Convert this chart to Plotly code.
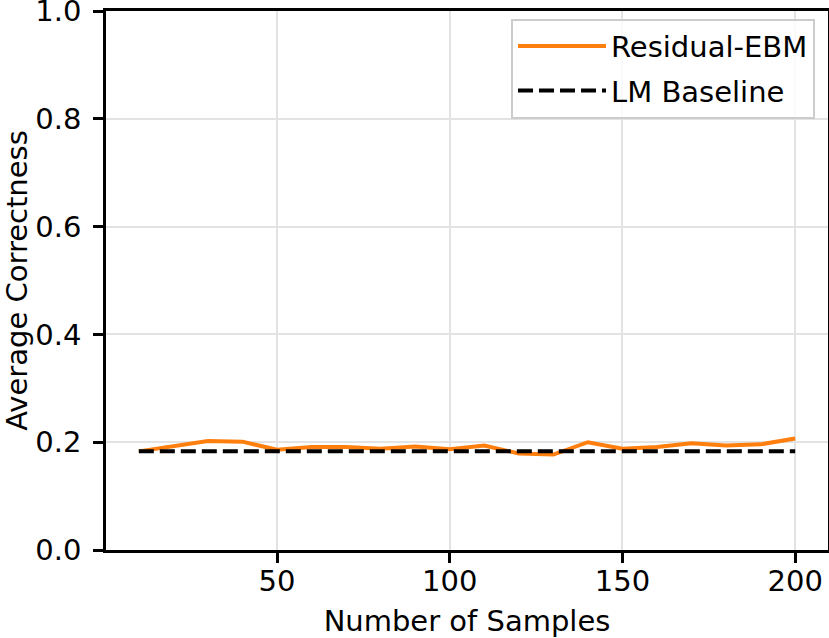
import plotly.graph_objects as go

samples = [10, 20, 30, 40, 50, 60, 70, 80, 90, 100,
           110, 120, 130, 140, 150, 160, 170, 180, 190, 200]
residual_ebm = [0.183, 0.192, 0.202, 0.201, 0.186, 0.191, 0.191, 0.188, 0.192, 0.187,
                0.194, 0.179, 0.177, 0.200, 0.188, 0.191, 0.198, 0.194, 0.196, 0.207]
lm_baseline = [0.183] * len(samples)

FONT = "DejaVu Sans"
FS = 29

fig = go.Figure()
fig.add_trace(go.Scatter(x=samples, y=residual_ebm, mode="lines", name="Residual-EBM",
                         legendgroup="a",
                         line=dict(color="#ff7f0e", width=4)))
fig.add_trace(go.Scatter(x=samples, y=lm_baseline, mode="lines", name="LM Baseline",
                         legendgroup="b",
                         line=dict(color="black", width=4, dash="15px,6px")))

axis_common = dict(showline=True, linecolor="black", linewidth=2.7, mirror=True,
                   ticks="outside", ticklen=10, tickwidth=2.7, tickcolor="black",
                   showgrid=True, gridcolor="#e3e3e3", gridwidth=2, zeroline=False,
                   ticklabeloverflow="allow", automargin=False,
                   tickfont=dict(family=FONT, size=FS, color="black"))

fig.update_layout(
    width=829, height=638,
    margin=dict(l=106, r=1, t=11, b=88, autoexpand=False),
    paper_bgcolor="white", plot_bgcolor="white",
    font=dict(family=FONT, size=FS, color="black"),
    showlegend=True,
    legend=dict(x=0.982, y=0.986, xanchor="right", yanchor="top",
                bgcolor="rgba(255,255,255,0.8)", bordercolor="#cccccc", borderwidth=2,
                font=dict(family=FONT, size=FS, color="black"),
                tracegroupgap=4, itemwidth=88),
)
fig.update_xaxes(range=[0.5, 209.5], tickvals=[50, 100, 150, 200],
                 title=dict(text="Number of Samples", font=dict(family=FONT, size=FS), standoff=21),
                 ticklabelstandoff=-7, **axis_common)
fig.update_yaxes(range=[0, 1.00001], tickvals=[0, 0.2, 0.4, 0.6, 0.8, 1.0],
                 ticktext=["0.0", "0.2", "0.4", "0.6", "0.8", "1.0"],
                 title=dict(text="Average Correctness", font=dict(family=FONT, size=FS), standoff=0),
                 ticklabelstandoff=6, **axis_common)

fig.write_html("out.html", config={"displayModeBar": False},
               post_script="document.body.style.margin='0';document.body.style.overflow='hidden';")
